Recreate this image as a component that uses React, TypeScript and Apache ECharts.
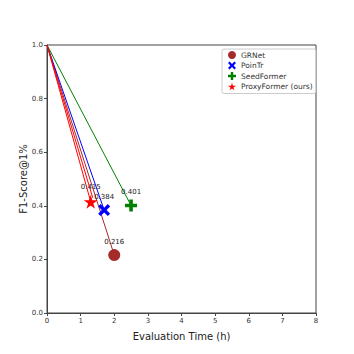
import React, { useEffect, useRef } from "react";
import * as echarts from "echarts";

const methods = ["GRNet", "PoinTr", "SeedFormer", "ProxyFormer (ours)"];
const evalTimes = [2.0, 1.7, 2.5, 1.3];
const f1Scores = [0.216, 0.384, 0.401, 0.415];
const colors = ["#a52a2a", "#0000ff", "#008000", "#ff0000"];
const startPoint = [0, 1.0];
// extra red trace seen in the figure
const extraRedEnd = [1.36, 0.43];
const xTicks = [0, 1, 2, 3, 4, 5, 6, 7, 8];
const yAxisTitle = "F1-Score@1%";
const xAxisTitle = "Evaluation Time (h)";

const STAR = "path://M50,0 L61,35 L98,35 L68,57 L79,91 L50,70 L21,91 L32,57 L2,35 L39,35 Z";
const XMARK = "path://M0,20 L20,0 L50,30 L80,0 L100,20 L70,50 L100,80 L80,100 L50,70 L20,100 L0,80 L30,50 Z";
const PLUS = "path://M35,0 L65,0 L65,35 L100,35 L100,65 L65,65 L65,100 L35,100 L35,65 L0,65 L0,35 L35,35 Z";
const symbols = ["circle", XMARK, PLUS, STAR];
const sizes = [12, 12, 12, 14];

export default function App() {
  const ref = useRef<HTMLDivElement>(null);
  useEffect(() => {
    document.body.style.margin = "0";
    const chart = echarts.init(ref.current!, null, { renderer: "svg" });
    const font = "DejaVu Sans";
    const lineSeries: any[] = methods.map((m, i) => ({
      type: "line",
      name: "line_" + m,
      data: [startPoint, [evalTimes[i], f1Scores[i]]],
      symbol: "none",
      lineStyle: { color: colors[i], width: 1 },
      z: 1,
      silent: true,
    }));
    lineSeries.push({
      type: "line",
      name: "line_extra",
      data: [startPoint, extraRedEnd],
      symbol: "none",
      lineStyle: { color: colors[3], width: 1 },
      z: 1,
      silent: true,
    });
    const scatterSeries = methods.map((m, i) => ({
      type: "scatter",
      name: m,
      data: [[evalTimes[i], f1Scores[i]]],
      symbol: symbols[i],
      symbolSize: sizes[i],
      itemStyle: { color: colors[i], opacity: 1 },
      z: 3,
      label: {
        show: true,
        position: "top",
        distance: 4,
        formatter: () => f1Scores[i].toFixed(3),
        fontSize: 7,
        fontFamily: font,
        color: "#222",
      },
    }));
    chart.setOption({
      animation: false,
      textStyle: { fontFamily: font },
      grid: {
        left: 47,
        top: 45,
        right: 38,
        bottom: 41,
        show: true,
        borderColor: "#444",
        borderWidth: 1,
      },
      graphic: [
        {
          type: "text",
          x: 23,
          y: 179,
          rotation: Math.PI / 2,
          style: {
            text: yAxisTitle,
            fontSize: 10,
            fontFamily: font,
            fill: "#222",
            align: "center",
            verticalAlign: "middle",
          },
        },
      ],
      legend: {
        data: methods.map((m, i) => ({
          name: m,
          icon: symbols[i],
          itemStyle: { color: colors[i] },
        })),
        orient: "vertical",
        left: 222,
        top: 49,
        itemWidth: 8,
        itemHeight: 8,
        itemGap: 2.5,
        padding: [2, 3, 3, 6],
        borderColor: "#ccc",
        borderWidth: 1,
        borderRadius: 2,
        backgroundColor: "#fff",
        textStyle: { fontSize: 7.5, fontFamily: font, color: "#333" },
      },
      xAxis: {
        type: "value",
        min: 0,
        max: 8,
        interval: 1,
        name: xAxisTitle,
        nameLocation: "middle",
        nameGap: 18,
        nameTextStyle: { fontSize: 10, fontFamily: font, color: "#222" },
        axisLine: { show: true, lineStyle: { color: "#444" } },
        axisTick: { show: true, length: 3, lineStyle: { color: "#444" } },
        axisLabel: {
          fontSize: 7,
          fontFamily: font,
          color: "#333",
          margin: 4,
          formatter: (v: number) => (xTicks.includes(v) ? String(v) : ""),
        },
        splitLine: { show: false },
      },
      yAxis: {
        type: "value",
        min: 0,
        max: 1,
        interval: 0.2,
        axisLine: { show: true, lineStyle: { color: "#444" } },
        axisTick: { show: true, length: 3, lineStyle: { color: "#444" } },
        axisLabel: {
          fontSize: 7,
          fontFamily: font,
          color: "#333",
          margin: 4,
          formatter: (v: number) => v.toFixed(1),
        },
        splitLine: { show: false },
      },
      series: [...lineSeries, ...scatterSeries],
    });
    return () => chart.dispose();
  }, []);
  return <div ref={ref} style={{ width: 354, height: 354 }} />;
}
